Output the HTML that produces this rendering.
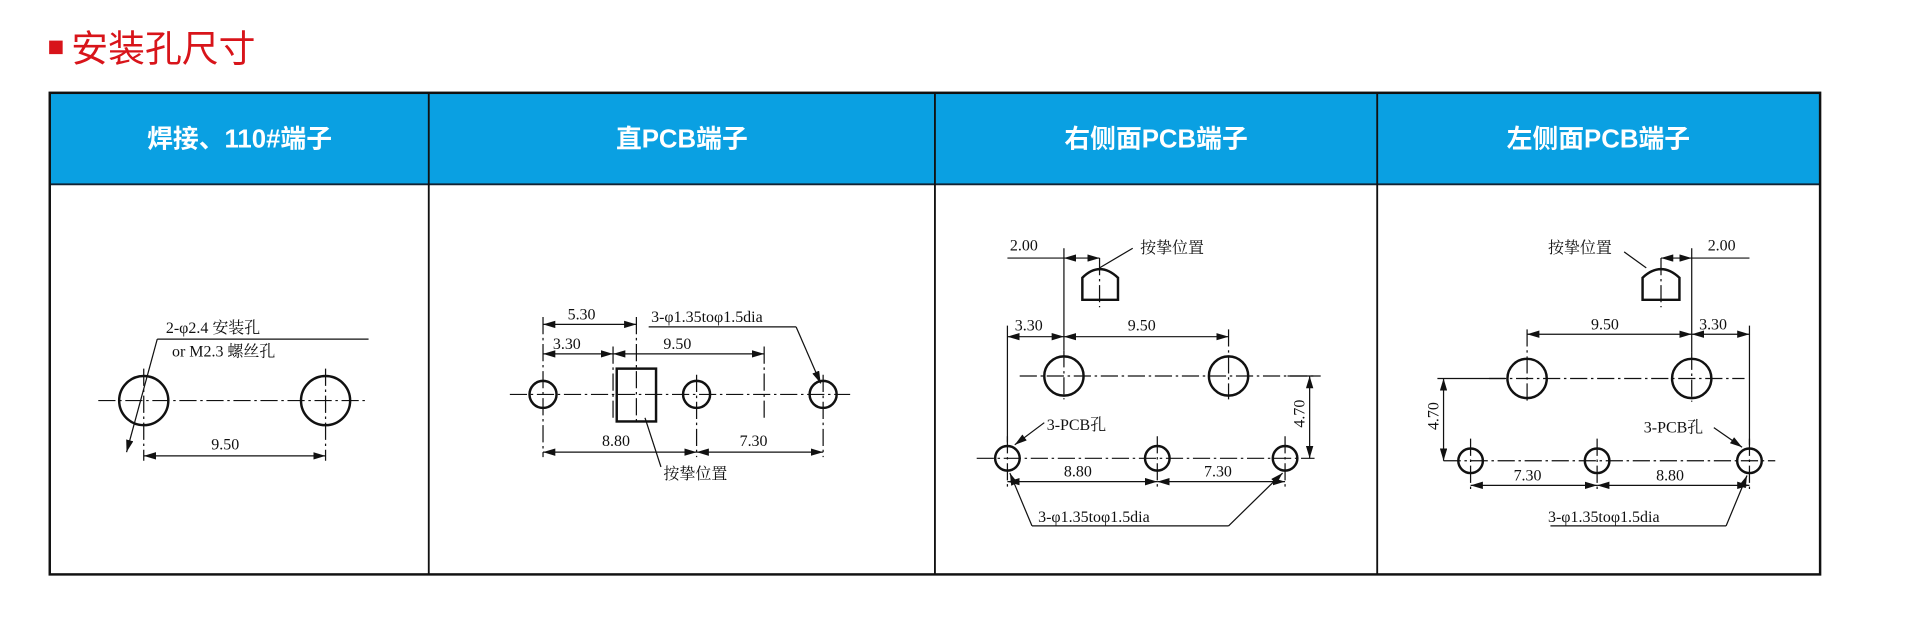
<!DOCTYPE html>
<html><head><meta charset="utf-8"><style>
html,body{margin:0;padding:0;background:#fff;width:1919px;height:623px;overflow:hidden}
svg{display:block}
.t{font-family:"Liberation Serif","Noto Serif CJK SC",serif;font-size:13px;fill:#111}
.h{font-family:"Liberation Sans","Noto Sans CJK SC",sans-serif;font-size:21px;font-weight:bold;fill:#fff}
</style></head><body>
<svg width="1919" height="623" viewBox="0 0 1562 507" xmlns="http://www.w3.org/2000/svg">
<defs>
<marker id="a" markerWidth="10" markerHeight="6" refX="10" refY="3" orient="auto-start-reverse" markerUnits="userSpaceOnUse"><path d="M0,0 L10,3 L0,6z" fill="#111"/></marker>
</defs>
<rect x="40" y="33" width="11" height="11" fill="#d8141a"/>
<text x="58" y="50" font-family="'Liberation Sans','Noto Sans CJK SC',sans-serif" font-size="30" fill="#d8141a">安装孔尺寸</text>
<rect x="40" y="75" width="1442" height="75" fill="#0aa0e2"/>
<line x1="40" y1="75.5" x2="1482" y2="75.5" stroke="#333" stroke-width="1.5"/>
<line x1="40" y1="150" x2="1482" y2="150" stroke="#123" stroke-width="1.5"/>
<rect x="40.5" y="75.5" width="1441" height="392" fill="none" stroke="#111" stroke-width="2"/>
<g stroke="#111" stroke-width="1.5"><line x1="349" y1="75" x2="349" y2="467"/><line x1="761" y1="75" x2="761" y2="467"/><line x1="1121" y1="75" x2="1121" y2="467"/></g>
<g class="h" text-anchor="middle"><text x="195" y="120">焊接、110#端子</text><text x="555" y="120">直PCB端子</text><text x="941" y="120">右侧面PCB端子</text><text x="1301" y="120">左侧面PCB端子</text></g>

<g fill="none" stroke="#111" stroke-width="1">
<!-- panel1 -->
<g stroke-dasharray="14,3,2,3"><line x1="80" y1="326" x2="300" y2="326"/><line x1="117" y1="300" x2="117" y2="375"/><line x1="265" y1="300" x2="265" y2="375"/></g>
<circle cx="117" cy="326" r="20" stroke-width="2"/><circle cx="265" cy="326" r="20" stroke-width="2"/>
<line x1="117" y1="371" x2="265" y2="371" marker-start="url(#a)" marker-end="url(#a)"/>
<line x1="300" y1="276" x2="128" y2="276"/><line x1="128" y1="276" x2="103" y2="368" marker-end="url(#a)"/>
<!-- panel2 -->
<g stroke-dasharray="14,3,2,3"><line x1="415" y1="321" x2="692" y2="321"/><line x1="442" y1="258" x2="442" y2="372"/><line x1="567" y1="305" x2="567" y2="372"/><line x1="670" y1="305" x2="670" y2="372"/><line x1="499" y1="282" x2="499" y2="340"/><line x1="622" y1="282" x2="622" y2="340"/><line x1="518" y1="258" x2="518" y2="345"/></g>
<circle cx="442" cy="321" r="11" stroke-width="2"/><circle cx="567" cy="321" r="11" stroke-width="2"/><circle cx="670" cy="321" r="11" stroke-width="2"/>
<rect x="502" y="300" width="32" height="43" stroke-width="2"/>
<line x1="442" y1="264" x2="518" y2="264" marker-start="url(#a)" marker-end="url(#a)"/>
<line x1="442" y1="288" x2="499" y2="288" marker-start="url(#a)" marker-end="url(#a)"/>
<line x1="499" y1="288" x2="622" y2="288" marker-start="url(#a)" marker-end="url(#a)"/>
<line x1="442" y1="368" x2="567" y2="368" marker-start="url(#a)" marker-end="url(#a)"/>
<line x1="567" y1="368" x2="670" y2="368" marker-start="url(#a)" marker-end="url(#a)"/>
<line x1="528" y1="266" x2="648" y2="266"/><line x1="648" y1="266" x2="668" y2="312" marker-end="url(#a)"/>
<line x1="525" y1="340" x2="538" y2="380"/>
<!-- panel3 -->
<g stroke-dasharray="14,3,2,3"><line x1="830" y1="306" x2="1075" y2="306"/><line x1="866" y1="285" x2="866" y2="325"/><line x1="1000" y1="268" x2="1000" y2="325"/><line x1="795" y1="373" x2="1070" y2="373"/><line x1="820" y1="355" x2="820" y2="398"/><line x1="942" y1="355" x2="942" y2="398"/><line x1="1046" y1="355" x2="1046" y2="398"/><line x1="895" y1="210" x2="895" y2="250"/></g>
<line x1="866" y1="202" x2="866" y2="285"/><line x1="820" y1="265" x2="820" y2="360"/>
<circle cx="866" cy="306" r="16" stroke-width="2"/><circle cx="1000" cy="306" r="16" stroke-width="2"/>
<circle cx="820" cy="373" r="10" stroke-width="2"/><circle cx="942" cy="373" r="10" stroke-width="2"/><circle cx="1046" cy="373" r="10" stroke-width="2"/>
<path d="M881,244 V226 Q895,212 910,226 V244 Z" stroke-width="2"/>
<line x1="820" y1="210" x2="866" y2="210"/><line x1="866" y1="210" x2="895" y2="210" marker-start="url(#a)" marker-end="url(#a)"/>
<line x1="895" y1="218" x2="922" y2="202"/>
<line x1="820" y1="274" x2="866" y2="274" marker-start="url(#a)" marker-end="url(#a)"/>
<line x1="866" y1="274" x2="1000" y2="274" marker-start="url(#a)" marker-end="url(#a)"/>
<line x1="1048" y1="306" x2="1072" y2="306"/>
<line x1="1066" y1="306" x2="1066" y2="373" marker-start="url(#a)" marker-end="url(#a)"/>
<line x1="820" y1="392" x2="942" y2="392" marker-start="url(#a)" marker-end="url(#a)"/>
<line x1="942" y1="392" x2="1046" y2="392" marker-start="url(#a)" marker-end="url(#a)"/>
<line x1="850" y1="344" x2="826" y2="362" marker-end="url(#a)"/>
<line x1="1000" y1="428" x2="840" y2="428"/><line x1="840" y1="428" x2="822" y2="385" marker-end="url(#a)"/><line x1="1000" y1="428" x2="1044" y2="385" marker-end="url(#a)"/>
<!-- panel4 -->
<g stroke-dasharray="14,3,2,3"><line x1="1212" y1="308" x2="1420" y2="308"/><line x1="1243" y1="268" x2="1243" y2="327"/><line x1="1377" y1="287" x2="1377" y2="327"/><line x1="1175" y1="375" x2="1445" y2="375"/><line x1="1197" y1="357" x2="1197" y2="400"/><line x1="1300" y1="357" x2="1300" y2="400"/><line x1="1424" y1="357" x2="1424" y2="400"/><line x1="1352" y1="210" x2="1352" y2="250"/></g>
<line x1="1377" y1="202" x2="1377" y2="287"/><line x1="1424" y1="265" x2="1424" y2="362"/>
<circle cx="1243" cy="308" r="16" stroke-width="2"/><circle cx="1377" cy="308" r="16" stroke-width="2"/>
<circle cx="1197" cy="375" r="10" stroke-width="2"/><circle cx="1300" cy="375" r="10" stroke-width="2"/><circle cx="1424" cy="375" r="10" stroke-width="2"/>
<path d="M1337,244 V226 Q1352,212 1367,226 V244 Z" stroke-width="2"/>
<line x1="1377" y1="210" x2="1424" y2="210"/><line x1="1352" y1="210" x2="1377" y2="210" marker-start="url(#a)" marker-end="url(#a)"/>
<line x1="1322" y1="205" x2="1340" y2="218"/>
<line x1="1243" y1="272" x2="1377" y2="272" marker-start="url(#a)" marker-end="url(#a)"/>
<line x1="1377" y1="272" x2="1424" y2="272" marker-start="url(#a)" marker-end="url(#a)"/>
<line x1="1170" y1="308" x2="1225" y2="308"/>
<line x1="1175" y1="308" x2="1175" y2="375" marker-start="url(#a)" marker-end="url(#a)"/>
<line x1="1197" y1="395" x2="1300" y2="395" marker-start="url(#a)" marker-end="url(#a)"/>
<line x1="1300" y1="395" x2="1424" y2="395" marker-start="url(#a)" marker-end="url(#a)"/>
<line x1="1395" y1="348" x2="1418" y2="364" marker-end="url(#a)"/>
<line x1="1262" y1="428" x2="1405" y2="428"/><line x1="1405" y1="428" x2="1422" y2="387" marker-end="url(#a)"/>
</g>

<g class="t">
<text x="135" y="271">2-φ2.4 安装孔</text><text x="140" y="290">or M2.3 螺丝孔</text><text x="172" y="366">9.50</text>
<text x="462" y="260">5.30</text><text x="450" y="284">3.30</text><text x="540" y="284">9.50</text><text x="530" y="262">3-φ1.35toφ1.5dia</text>
<text x="490" y="363">8.80</text><text x="602" y="363">7.30</text><text x="540" y="390">按挚位置</text>
<text x="822" y="204">2.00</text><text x="928" y="206">按挚位置</text><text x="826" y="269">3.30</text><text x="918" y="269">9.50</text>
<text x="852" y="350">3-PCB孔</text><text x="866" y="388">8.80</text><text x="980" y="388">7.30</text><text x="845" y="425">3-φ1.35toφ1.5dia</text>
<text transform="translate(1062,348) rotate(-90)">4.70</text>
<text x="1260" y="206">按挚位置</text><text x="1390" y="204">2.00</text><text x="1295" y="268">9.50</text><text x="1383" y="268">3.30</text>
<text x="1338" y="352">3-PCB孔</text><text x="1232" y="391">7.30</text><text x="1348" y="391">8.80</text><text x="1260" y="425">3-φ1.35toφ1.5dia</text>
<text transform="translate(1171,350) rotate(-90)">4.70</text>
</g>
</svg>
</body></html>
